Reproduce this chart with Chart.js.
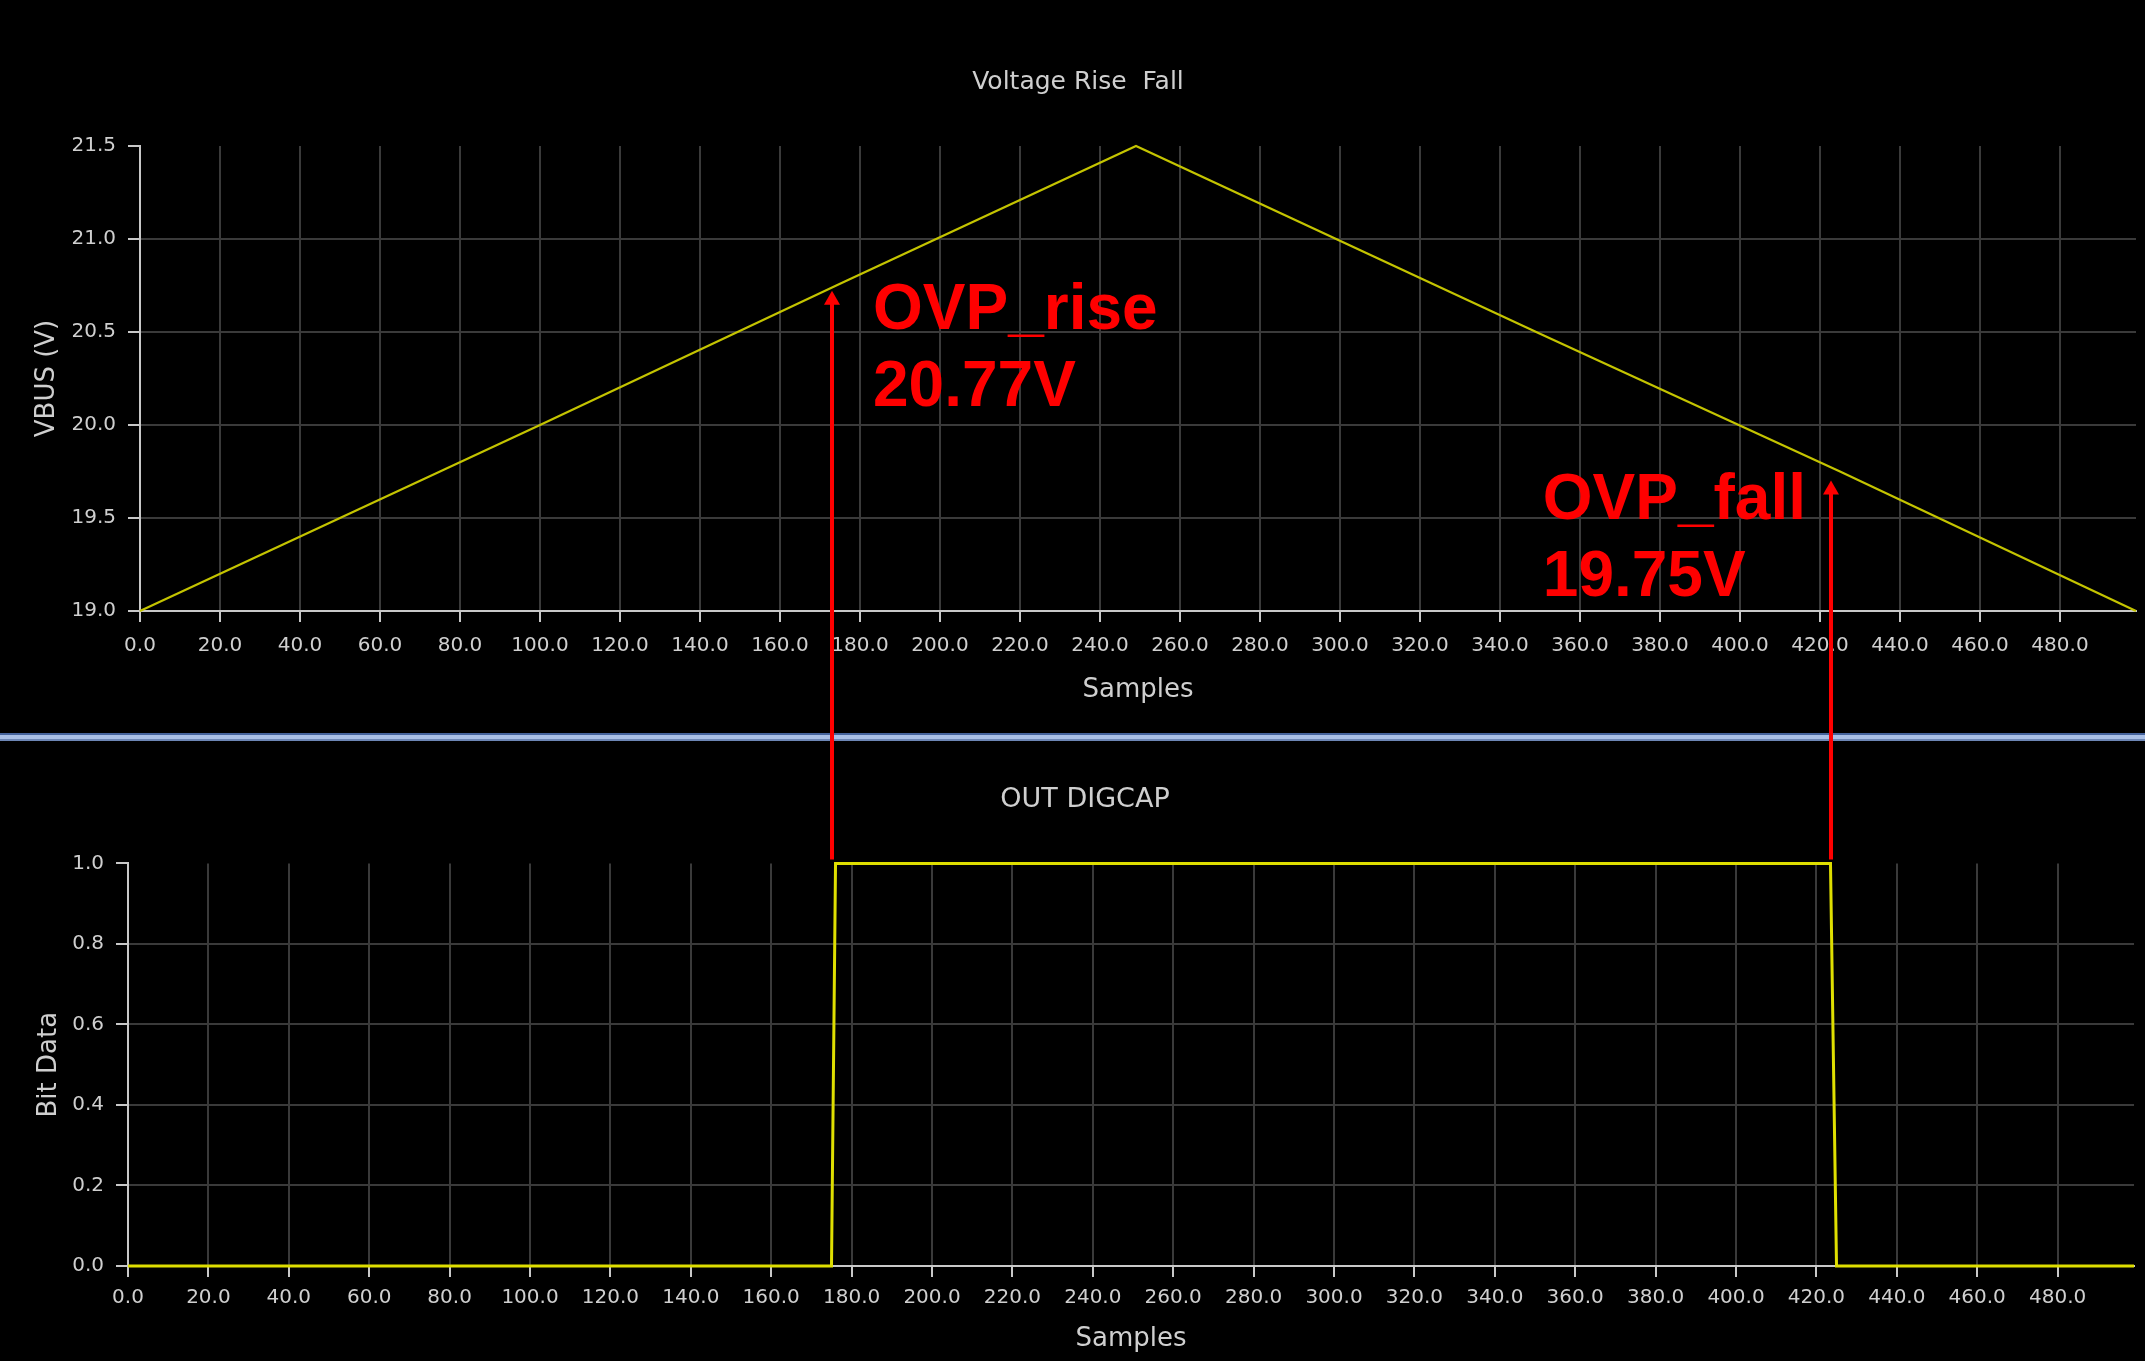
<!DOCTYPE html>
<html>
<head>
<meta charset="utf-8">
<title>Voltage Rise Fall</title>
<script src="https://cdn.jsdelivr.net/npm/chart.js@4.4.1/dist/chart.umd.min.js"></script>
<style>
  html, body { margin: 0; padding: 0; background: #000; }
  #page { position: relative; width: 2145px; height: 1361px; overflow: hidden; background: #000; }
  #topChart { position: absolute; left: 0; top: 0; }
  #divider { position: absolute; left: 0; top: 733px; width: 2145px; height: 4px; background: #a9bfe6;
             border-top: 2px solid #45639c; border-bottom: 2px solid #6d86b5; }
  #bottomChart { position: absolute; left: 0; top: 741px; }
  #overlay { position: absolute; left: 0; top: 0; pointer-events: none; }
</style>
</head>
<body>
<div id="page">
  <canvas id="topChart" width="2145" height="733"></canvas>
  <div id="divider"></div>
  <canvas id="bottomChart" width="2145" height="620"></canvas>
  <canvas id="overlay" width="2145" height="1361"></canvas>
</div>
<script>
// VBUS ramp
const vbusSamples = [0, 100, 175, 249, 350, 425, 499];
const vbusValues = [19.0, 20.0, 20.76, 21.5, 20.49, 19.75, 19.0];

// OUT DIGCAP bit capture
const bitSamples = [0, 175, 176, 423.5, 425, 499];
const bitValues = [0, 0, 1, 1, 0, 0];

const sampleTicks = [0, 20, 40, 60, 80, 100, 120, 140, 160, 180, 200, 220, 240,
                     260, 280, 300, 320, 340, 360, 380, 400, 420, 440, 460, 480];
const vbusTicks = [19.0, 19.5, 20.0, 20.5, 21.0, 21.5];
const bitTicks = [0.0, 0.2, 0.4, 0.6, 0.8, 1.0];

// OVP markers
const ovpNames = ['OVP_rise', 'OVP_fall'];
const ovpSamples = [175, 423.6];
const ovpVoltages = [20.77, 19.75];
const ovpSide = ['right', 'left'];

const textColor = '#cfcfcf';
const gridColor = '#3a3a3a';
const axisColor = '#c8c8c8';
const fontFamily = '"DejaVu Sans", Verdana, sans-serif';

function toPoints(xs, ys) {
    return xs.map((x, i) => ({ x: x, y: ys[i] }));
}

function xAxis(axisHeight, labelPad, titlePadBottom) {
    return {
        type: 'linear',
        min: 0,
        max: 499,
        afterBuildTicks: scale => { scale.ticks = sampleTicks.map(v => ({ value: v })); },
        afterFit: scale => { scale.height = axisHeight; },
        border: { display: true, color: axisColor, width: 2 },
        grid: {
            color: gridColor,
            lineWidth: 2,
            tickColor: axisColor,
            tickWidth: 2,
            tickLength: 11
        },
        ticks: {
            color: textColor,
            padding: labelPad,
            maxRotation: 0,
            autoSkip: false,
            font: { family: fontFamily, size: 20 },
            callback: value => value.toFixed(1)
        },
        title: {
            display: true,
            text: 'Samples',
            color: textColor,
            font: { family: fontFamily, size: 26 },
            padding: { top: 0, bottom: titlePadBottom }
        }
    };
}

// axisWidth + left layout padding = chart area left edge
function yAxis(tickList, axisWidth, label, titlePadTop, titleLineHeight) {
    return {
        type: 'linear',
        min: tickList[0],
        max: tickList[tickList.length - 1],
        afterBuildTicks: scale => { scale.ticks = tickList.map(v => ({ value: v })); },
        afterFit: scale => { scale.width = axisWidth; },
        border: { display: true, color: axisColor, width: 2 },
        grid: {
            color: ctx => ctx.index === tickList.length - 1 ? 'rgba(0,0,0,0)' : gridColor,
            lineWidth: 2,
            tickColor: axisColor,
            tickWidth: 2,
            tickLength: 12
        },
        ticks: {
            color: textColor,
            padding: 12,
            autoSkip: false,
            font: { family: fontFamily, size: 20 },
            callback: value => value.toFixed(1)
        },
        title: {
            display: true,
            text: label,
            color: textColor,
            font: { family: fontFamily, size: 26, lineHeight: titleLineHeight },
            padding: { top: titlePadTop, bottom: 0 }
        }
    };
}

const topChart = new Chart(document.getElementById('topChart'), {
    type: 'line',
    data: {
        datasets: [{
            data: toPoints(vbusSamples, vbusValues),
            borderColor: '#c4c400',
            borderWidth: 2.2,
            pointRadius: 0,
            tension: 0,
            clip: false
        }]
    },
    options: {
        responsive: false,
        animation: false,
        devicePixelRatio: 1,
        layout: { padding: { left: 20, right: 9, top: 0, bottom: 0 } },
        plugins: {
            legend: { display: false },
            tooltip: { enabled: false },
            title: {
                display: true,
                text: 'Voltage Rise  Fall',
                color: textColor,
                font: { family: fontFamily, size: 25, weight: 'normal' },
                padding: { top: 67, bottom: 49 }
            }
        },
        scales: {
            x: xAxis(122, 12, 27),
            y: yAxis(vbusTicks, 120, 'VBUS (V)', 12, 1.2)
        }
    }
});

function drawOvpMarkers(bottom) {
    const overlay = document.getElementById('overlay');
    const ctx = overlay.getContext('2d');
    const topY = topChart.scales.y;
    const botX = bottom.scales.x;
    const botY = bottom.scales.y;
    const offset = document.getElementById('bottomChart').offsetTop;

    ctx.clearRect(0, 0, overlay.width, overlay.height);
    ctx.fillStyle = '#ff0000';
    ctx.strokeStyle = '#ff0000';
    ctx.font = 'bold 64px "Liberation Sans", Arial, sans-serif';
    ctx.textBaseline = 'alphabetic';

    ovpSamples.forEach((s, i) => {
        const x = Math.round(botX.getPixelForValue(s));
        const vy = topY.getPixelForValue(ovpVoltages[i]);
        const tip = vy + 9;
        const end = offset + botY.getPixelForValue(1) - 4;

        ctx.lineWidth = 4;
        ctx.beginPath();
        ctx.moveTo(x, tip + 10);
        ctx.lineTo(x, end);
        ctx.stroke();

        ctx.beginPath();
        ctx.moveTo(x, tip);
        ctx.lineTo(x - 8, tip + 14);
        ctx.lineTo(x + 8, tip + 14);
        ctx.closePath();
        ctx.fill();

        const line1 = ovpNames[i];
        const line2 = ovpVoltages[i].toFixed(2) + 'V';
        const w = ctx.measureText(line1).width;
        const left = ovpSide[i] === 'right' ? x + 41 : x - 25 - w;
        ctx.textAlign = 'left';
        ctx.fillText(line1, left, vy + 47);
        ctx.fillText(line2, left, vy + 124);
    });
}

new Chart(document.getElementById('bottomChart'), {
    type: 'line',
    data: {
        datasets: [{
            data: toPoints(bitSamples, bitValues),
            borderColor: '#dede00',
            borderWidth: 3,
            pointRadius: 0,
            tension: 0,
            clip: false
        }]
    },
    options: {
        responsive: false,
        animation: false,
        devicePixelRatio: 1,
        layout: { padding: { left: 36, right: 11, top: 0, bottom: 0 } },
        plugins: {
            legend: { display: false },
            tooltip: { enabled: false },
            title: {
                display: true,
                text: 'OUT DIGCAP',
                color: textColor,
                font: { family: fontFamily, size: 27, weight: 'normal' },
                padding: { top: 43, bottom: 47 }
            }
        },
        scales: {
            x: xAxis(95, 9, 6),
            y: yAxis(bitTicks, 92, 'Bit Data', 0, 1)
        }
    },
    plugins: [{
        id: 'ovpMarkers',
        afterRender: chart => drawOvpMarkers(chart)
    }]
});
</script>
</body>
</html>
